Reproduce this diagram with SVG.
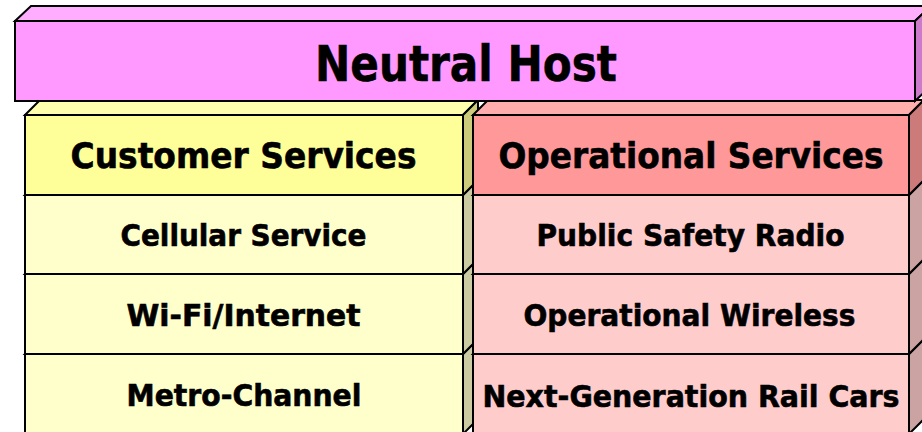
<svg xmlns="http://www.w3.org/2000/svg" width="922" height="432" viewBox="0 0 922 432">
<style>
  .e { stroke:#000; stroke-width:2; stroke-linejoin:miter; }
  .t { font-family:"DejaVu Sans","Verdana",sans-serif; font-weight:bold; fill:#000; stroke:#000; stroke-width:0.6; text-anchor:middle; }
  .h1 { font-size:50px; }
  .h2 { font-size:35px; }
  .r { font-size:29.5px; }
  .nhF { fill:#FF99FF; } .nhT { fill:#FFADFF; } .nhS { fill:#CC7ACC; }
  .chF { fill:#FFFF99; } .chT { fill:#FFFFAD; } .chS { fill:#CCCC7A; }
  .crF { fill:#FFFFCC; } .crT { fill:#FFFFD6; } .crS { fill:#CCCCA3; }
  .ohF { fill:#FF9999; } .ohT { fill:#FFADAD; } .ohS { fill:#CC7A7A; }
  .orF { fill:#FFCCCC; } .orT { fill:#FFD6D6; } .orS { fill:#CCA3A3; }
</style>
<rect width="922" height="432" fill="#FFFFFF"/>

<!-- Customer column (bottom to top) -->
<g id="metro-channel">
  <polygon class="e crT" points="25,354 40,339 478,339 463,354"/>
  <polygon class="e crS" points="463,354 478,339 478,419 463,434"/>
  <rect class="e crF" x="25" y="354" width="438" height="80"/>
  <text class="t r" x="244" y="406" textLength="235" lengthAdjust="spacingAndGlyphs">Metro-Channel</text>
</g>
<g id="wifi-internet">
  <polygon class="e crT" points="25,274 40,259 478,259 463,274"/>
  <polygon class="e crS" points="463,274 478,259 478,339 463,354"/>
  <rect class="e crF" x="25" y="274" width="438" height="80"/>
  <text class="t r" x="243.5" y="326" textLength="234" lengthAdjust="spacingAndGlyphs">Wi-Fi/Internet</text>
</g>
<g id="cellular-service">
  <polygon class="e crT" points="25,195 40,180 478,180 463,195"/>
  <polygon class="e crS" points="463,195 478,180 478,259 463,274"/>
  <rect class="e crF" x="25" y="195" width="438" height="79"/>
  <text class="t r" x="243.5" y="246" textLength="246" lengthAdjust="spacingAndGlyphs">Cellular Service</text>
</g>
<g id="customer-services">
  <polygon class="e chT" points="25,115 40,100 478,100 463,115"/>
  <polygon class="e chS" points="463,115 478,100 478,180 463,195"/>
  <rect class="e chF" x="25" y="115" width="438" height="80"/>
  <text class="t h2" x="243.5" y="168" textLength="346" lengthAdjust="spacingAndGlyphs">Customer Services</text>
</g>

<!-- Operational column (bottom to top) -->
<g id="next-generation-rail-cars">
  <polygon class="e orT" points="473,354 488,339 924,339 909,354"/>
  <polygon class="e orS" points="909,354 924,339 924,419 909,434"/>
  <rect class="e orF" x="473" y="354" width="436" height="80"/>
  <text class="t r" x="691" y="407" textLength="417" lengthAdjust="spacingAndGlyphs">Next-Generation Rail Cars</text>
</g>
<g id="operational-wireless">
  <polygon class="e orT" points="473,274 488,259 924,259 909,274"/>
  <polygon class="e orS" points="909,274 924,259 924,339 909,354"/>
  <rect class="e orF" x="473" y="274" width="436" height="80"/>
  <text class="t r" x="689.5" y="326" textLength="332" lengthAdjust="spacingAndGlyphs">Operational Wireless</text>
</g>
<g id="public-safety-radio">
  <polygon class="e orT" points="473,195 488,180 924,180 909,195"/>
  <polygon class="e orS" points="909,195 924,180 924,259 909,274"/>
  <rect class="e orF" x="473" y="195" width="436" height="79"/>
  <text class="t r" x="690.5" y="246" textLength="308" lengthAdjust="spacingAndGlyphs">Public Safety Radio</text>
</g>
<g id="operational-services">
  <polygon class="e ohT" points="473,115 488,100 924,100 909,115"/>
  <polygon class="e ohS" points="909,115 924,100 924,180 909,195"/>
  <rect class="e ohF" x="473" y="115" width="436" height="80"/>
  <text class="t h2" x="691" y="168" textLength="385" lengthAdjust="spacingAndGlyphs">Operational Services</text>
</g>

<!-- Neutral Host (front) -->
<g id="neutral-host">
  <polygon class="e nhT" points="15,21 31,6 931,6 915,21"/>
  <polygon class="e nhS" points="915,21 931,6 931,86 915,101"/>
  <rect class="e nhF" x="15" y="21" width="900" height="80"/>
  <text class="t h1" x="466" y="81" textLength="302" lengthAdjust="spacingAndGlyphs">Neutral Host</text>
</g>
</svg>
